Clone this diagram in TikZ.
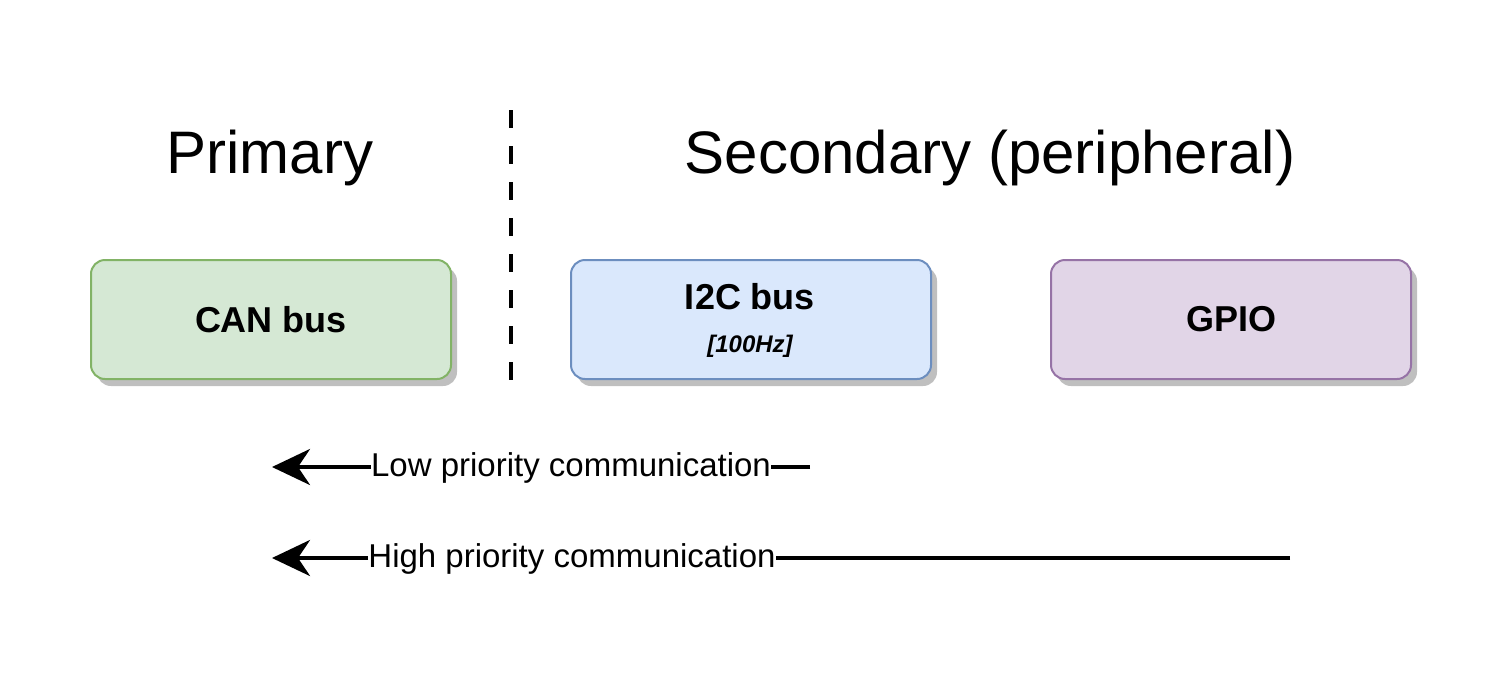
\documentclass[tikz,border=0pt]{standalone}
\usepackage{fontspec}
\setmainfont{Liberation Sans}
\usetikzlibrary{arrows.meta,shadows}
\definecolor{gfill}{HTML}{D5E8D4}\definecolor{gdraw}{HTML}{82B366}
\definecolor{bfill}{HTML}{DAE8FC}\definecolor{bdraw}{HTML}{6C8EBF}
\definecolor{pfill}{HTML}{E1D5E7}\definecolor{pdraw}{HTML}{9673A6}
\definecolor{shadowgray}{HTML}{BFBFBF}
\begin{document}
\begin{tikzpicture}[x=1pt,y=-1pt,
  box/.style={rounded corners=14pt, line width=2pt, minimum width=360pt, minimum height=119pt,
    inner sep=0pt, font=\bfseries\fontsize{36}{42}\selectfont, align=center,
    drop shadow={shadow xshift=6pt, shadow yshift=-7pt, fill=shadowgray, opacity=1}},
  title/.style={font=\fontsize{60}{70}\selectfont, inner sep=0pt},
  lbl/.style={font=\fontsize{33}{38}\selectfont, inner sep=0pt},
  conn/.style={line width=4pt},
  tip/.style={-{Stealth[length=38pt,width=36pt,inset=12pt]}}]
\useasboundingbox (0,0) rectangle (1512,675);
\node[title] (primary) at (270,158) {Primary};
\node[title] (secondary) at (990,158) {Secondary (peripheral)};
\coordinate (dtop) at (511,110);
\coordinate (dbot) at (511,380);
\draw[line width=4pt, dash pattern=on 18pt off 18pt] (dtop) -- (dbot);
\node[box, fill=gfill, draw=gdraw] (can) at (271,319.5) {CAN bus};
\node[box, fill=bfill, draw=bdraw] (i2c) at (751,319.5) {};
\node[font=\bfseries\fontsize{36}{42}\selectfont, inner sep=0pt] (i2ct) at (750,297) {I2C bus};
\node[font=\bfseries\itshape\fontsize{24}{28}\selectfont, inner sep=0pt] (i2cf) at (750,346) {[100Hz]};
\node[box, fill=pfill, draw=pdraw] (gpio) at (1231,319.5) {GPIO};
% low priority
\node[lbl] (low) at (571,468) {Low priority communication};
\coordinate (lowend) at (810,467);
\coordinate (lowtip) at (272,467);
\draw[conn] (lowend) -- (low.east |- lowend);
\draw[conn, tip] (low.west |- lowtip) -- (lowtip);
% high priority
\node[lbl] (high) at (572,559) {High priority communication};
\coordinate (highend) at (1290,558);
\coordinate (hightip) at (272,558);
\draw[conn] (highend) -- (high.east |- highend);
\draw[conn, tip] (high.west |- hightip) -- (hightip);
\end{tikzpicture}
\end{document}
